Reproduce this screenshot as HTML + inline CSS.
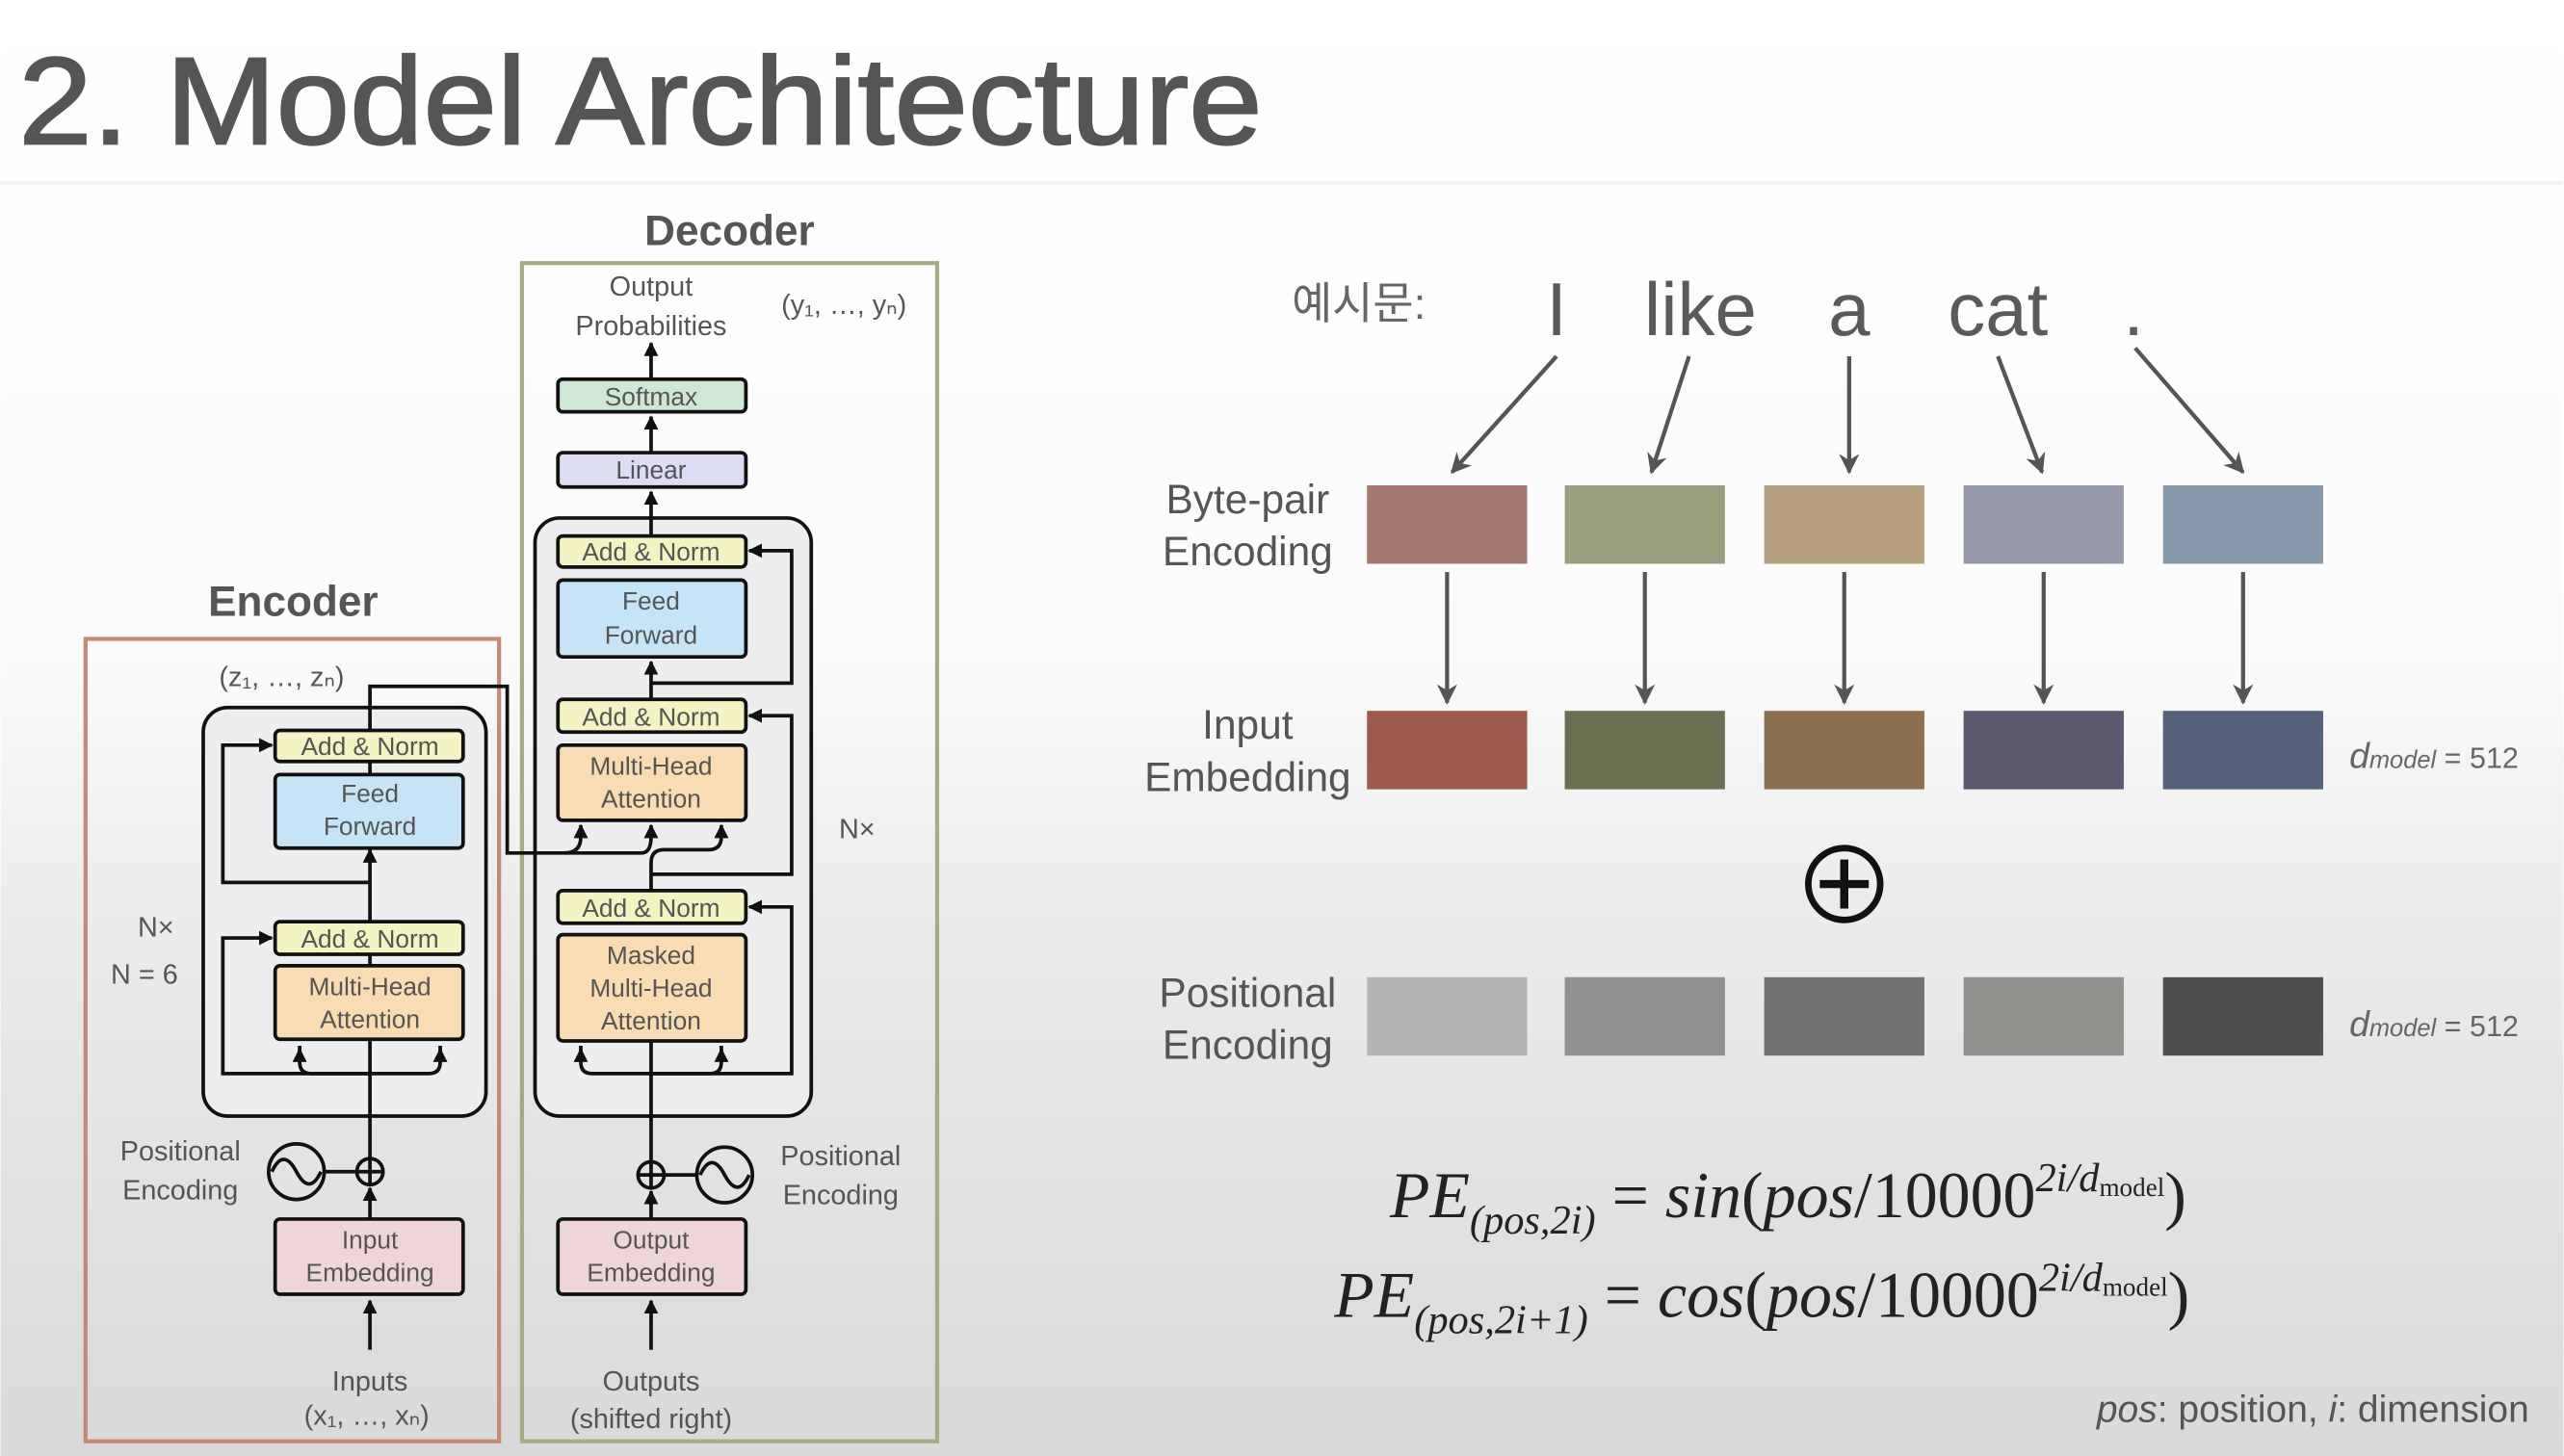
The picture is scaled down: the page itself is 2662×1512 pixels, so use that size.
<!DOCTYPE html>
<html><head><meta charset="utf-8"><style>
html,body{margin:0;padding:0;}
body{width:2662px;height:1512px;overflow:hidden;background:#fff;}
svg{display:block;}
.s{font-family:"Liberation Sans","Noto Sans CJK KR",sans-serif;}
.m{font-family:"Liberation Serif",serif;}
</style></head><body>
<svg width="2662" height="1512" viewBox="0 0 1568 891" xmlns="http://www.w3.org/2000/svg">
<defs>
<linearGradient id="bg" x1="0" y1="0" x2="0" y2="1">
<stop offset="0" stop-color="#ffffff"/><stop offset="0.45" stop-color="#fbfbfb"/><stop offset="0.62" stop-color="#ececec"/><stop offset="1" stop-color="#d9d9d9"/>
</linearGradient>
<marker id="a" viewBox="0 0 10 10" refX="9" refY="5" markerWidth="4" markerHeight="4" orient="auto"><path d="M0,0L10,5L0,10z" fill="#111"/></marker>
<marker id="g" viewBox="0 0 10 10" refX="9" refY="5" markerWidth="5" markerHeight="6" orient="auto"><path d="M0,0L10,5L0,10L3,5z" fill="#555"/></marker>
</defs>
<rect width="1568" height="891" fill="url(#bg)"/>
<g class="s">
<text x="11" y="88" font-size="76" fill="#555" textLength="761" lengthAdjust="spacingAndGlyphs" stroke="#555" stroke-width="1.2">2. Model Architecture</text>
<line x1="0" y1="112" x2="1568" y2="112" stroke="#f0f0f0" stroke-width="2"/>

<text x="179" y="377" font-size="26" font-weight="bold" fill="#555" text-anchor="middle">Encoder</text>
<text x="446" y="150" font-size="26" font-weight="bold" fill="#555" text-anchor="middle">Decoder</text>
<rect x="52" y="391" width="253" height="491" fill="none" stroke="#c28a7a" stroke-width="2.5"/>
<rect x="319" y="161" width="254" height="721" fill="none" stroke="#a3ad84" stroke-width="2.5"/>

<g stroke="#111" stroke-width="2.2" fill="none">
<rect x="124" y="433" width="173" height="250" rx="15" fill="#eeeef0"/>
<rect x="327" y="317" width="169" height="366" rx="15" fill="#eeeef0"/>
</g>

<g font-size="17" fill="#555" text-anchor="middle">
<text x="398" y="181">Output</text><text x="398" y="205">Probabilities</text>
<text x="516" y="192">(y₁, …, yₙ)</text>
<text x="172" y="420">(z₁, …, zₙ)</text>
<text x="95" y="573">N×</text><text x="88" y="602">N = 6</text>
<text x="524" y="513">N×</text>
<text x="110" y="710">Positional</text><text x="110" y="734">Encoding</text>
<text x="514" y="713">Positional</text><text x="514" y="737">Encoding</text>
<text x="226" y="851">Inputs</text><text x="224" y="872">(x₁, …, xₙ)</text>
<text x="398" y="851">Outputs</text><text x="398" y="874">(shifted right)</text>
</g>

<g stroke="#111" stroke-width="2.2" fill="none">
<line x1="226" y1="826" x2="226" y2="796" marker-end="url(#a)"/>
<line x1="226" y1="746" x2="226" y2="727" marker-end="url(#a)"/>
<line x1="226" y1="709" x2="226" y2="637"/>
<line x1="226" y1="591" x2="226" y2="584"/>
<line x1="226" y1="564" x2="226" y2="520" marker-end="url(#a)"/>
<line x1="226" y1="474" x2="226" y2="466"/>
<path d="M226,657 H136 V574 H166" marker-end="url(#a)"/>
<path d="M183,640 V650 Q183,657 190,657 H262 Q269,657 269,650 V640"/>
<path d="M183,650 V642" marker-end="url(#a)"/><path d="M269,650 V642" marker-end="url(#a)"/>
<path d="M226,540 H136 V456 H166" marker-end="url(#a)"/>
<path d="M226,447 V420 H310 V522 H345 Q355,522 355,512 V505" marker-end="url(#a)"/>
<path d="M345,522 H392 Q398,522 398,512 V505" marker-end="url(#a)"/>
<line x1="398" y1="826" x2="398" y2="796" marker-end="url(#a)"/>
<line x1="398" y1="746" x2="398" y2="729" marker-end="url(#a)"/>
<line x1="398" y1="711" x2="398" y2="638"/>
<path d="M355,640 V650 Q355,657 362,657 H434 Q441,657 441,650 V640"/>
<path d="M355,650 V642" marker-end="url(#a)"/><path d="M441,650 V642" marker-end="url(#a)"/>
<path d="M398,657 H484 V555 H458" marker-end="url(#a)"/>
<path d="M398,545 V528 Q398,520 406,520 H433 Q441,520 441,512 V505" marker-end="url(#a)"/>
<path d="M398,535 H484 V438 H458" marker-end="url(#a)"/>
<line x1="398" y1="428" x2="398" y2="405" marker-end="url(#a)"/>
<path d="M398,418 H484 V337 H458" marker-end="url(#a)"/>
<line x1="398" y1="328" x2="398" y2="301" marker-end="url(#a)"/>
<line x1="398" y1="277" x2="398" y2="255" marker-end="url(#a)"/>
<line x1="398" y1="232" x2="398" y2="210" marker-end="url(#a)"/>
<circle cx="226" cy="717" r="8" fill="none"/><path d="M218,717H234M226,709V725"/>
<circle cx="181" cy="717" r="17"/><path d="M166,717 Q173,702 181,717 Q189,732 196,717"/>
<line x1="198" y1="717" x2="218" y2="717"/>
<circle cx="398" cy="719" r="8"/><path d="M390,719H406M398,711V727"/>
<circle cx="443" cy="719" r="17"/><path d="M428,719 Q435,704 443,719 Q451,734 458,719"/>
<line x1="406" y1="719" x2="426" y2="719"/>
</g>

<g stroke="#111" stroke-width="2.2">
<rect x="168" y="447" width="115" height="19" rx="3" fill="#f3f3c4"/>
<rect x="168" y="474" width="115" height="45" rx="3" fill="#c7e4f6"/>
<rect x="168" y="564" width="115" height="20" rx="3" fill="#f3f3c4"/>
<rect x="168" y="591" width="115" height="45" rx="3" fill="#f7dcb4"/>
<rect x="168" y="746" width="115" height="46" rx="3" fill="#eed5d8"/>
<rect x="341" y="232" width="115" height="20" rx="3" fill="#cfe8d6"/>
<rect x="341" y="277" width="115" height="21" rx="3" fill="#dcdcf2"/>
<rect x="341" y="328" width="115" height="19" rx="3" fill="#f3f3c4"/>
<rect x="341" y="355" width="115" height="47" rx="3" fill="#c7e4f6"/>
<rect x="341" y="428" width="115" height="20" rx="3" fill="#f3f3c4"/>
<rect x="341" y="456" width="115" height="46" rx="3" fill="#f7dcb4"/>
<rect x="341" y="545" width="115" height="20" rx="3" fill="#f3f3c4"/>
<rect x="341" y="572" width="115" height="65" rx="3" fill="#f7dcb4"/>
<rect x="341" y="746" width="115" height="46" rx="3" fill="#eed5d8"/>
</g>
<g font-size="15.5" fill="#555" text-anchor="middle">
<text x="226" y="462">Add &amp; Norm</text>
<text x="226" y="491">Feed</text><text x="226" y="511">Forward</text>
<text x="226" y="580">Add &amp; Norm</text>
<text x="226" y="609">Multi-Head</text><text x="226" y="629">Attention</text>
<text x="226" y="764">Input</text><text x="226" y="784">Embedding</text>
<text x="398" y="248">Softmax</text>
<text x="398" y="293">Linear</text>
<text x="398" y="343">Add &amp; Norm</text>
<text x="398" y="373">Feed</text><text x="398" y="394">Forward</text>
<text x="398" y="444">Add &amp; Norm</text>
<text x="398" y="474">Multi-Head</text><text x="398" y="494">Attention</text>
<text x="398" y="561">Add &amp; Norm</text>
<text x="398" y="590">Masked</text><text x="398" y="610">Multi-Head</text><text x="398" y="630">Attention</text>
<text x="398" y="764">Output</text><text x="398" y="784">Embedding</text>
</g>

<text x="790" y="195" font-size="27" fill="#666">예시문:</text>
<g font-size="46" fill="#5a5a5a" text-anchor="middle">
<text x="952" y="205">I</text><text x="1040" y="205">like</text><text x="1131" y="205">a</text><text x="1222" y="205">cat</text><text x="1305" y="205">.</text>
</g>
<g stroke="#555" stroke-width="2.5" fill="none">
<line x1="952" y1="218" x2="888" y2="289" marker-end="url(#g)"/>
<line x1="1033" y1="218" x2="1010" y2="289" marker-end="url(#g)"/>
<line x1="1131" y1="218" x2="1131" y2="289" marker-end="url(#g)"/>
<line x1="1222" y1="218" x2="1249" y2="289" marker-end="url(#g)"/>
<line x1="1306" y1="213" x2="1372" y2="289" marker-end="url(#g)"/>
<line x1="885" y1="350" x2="885" y2="430" marker-end="url(#g)"/>
<line x1="1006" y1="350" x2="1006" y2="430" marker-end="url(#g)"/>
<line x1="1128" y1="350" x2="1128" y2="430" marker-end="url(#g)"/>
<line x1="1250" y1="350" x2="1250" y2="430" marker-end="url(#g)"/>
<line x1="1372" y1="350" x2="1372" y2="430" marker-end="url(#g)"/>
</g>
<g>
<rect x="836" y="297" width="98" height="48" fill="#a47a70"/>
<rect x="957" y="297" width="98" height="48" fill="#9a9e7f"/>
<rect x="1079" y="297" width="98" height="48" fill="#b59f7e"/>
<rect x="1201" y="297" width="98" height="48" fill="#9698ab"/>
<rect x="1323" y="297" width="98" height="48" fill="#8699ab"/>
<rect x="836" y="435" width="98" height="48" fill="#9e5a4c"/>
<rect x="957" y="435" width="98" height="48" fill="#6c7052"/>
<rect x="1079" y="435" width="98" height="48" fill="#8b7150"/>
<rect x="1201" y="435" width="98" height="48" fill="#5b5870"/>
<rect x="1323" y="435" width="98" height="48" fill="#56627a"/>
<rect x="836" y="598" width="98" height="48" fill="#b4b4b4"/>
<rect x="957" y="598" width="98" height="48" fill="#929190"/>
<rect x="1079" y="598" width="98" height="48" fill="#717171"/>
<rect x="1201" y="598" width="98" height="48" fill="#92918e"/>
<rect x="1323" y="598" width="98" height="48" fill="#4f4f4f"/>
</g>
<g font-size="25" fill="#555" text-anchor="middle">
<text x="763" y="314">Byte-pair</text><text x="763" y="346">Encoding</text>
<text x="763" y="452">Input</text><text x="763" y="484">Embedding</text>
<text x="763" y="616">Positional</text><text x="763" y="648">Encoding</text>
</g>
<g font-size="18" fill="#666">
<text x="1437" y="470"><tspan font-style="italic" font-size="22">d</tspan><tspan font-style="italic" font-size="15">model</tspan> = 512</text>
<text x="1437" y="634"><tspan font-style="italic" font-size="22">d</tspan><tspan font-style="italic" font-size="15">model</tspan> = 512</text>
</g>
<circle cx="1128" cy="541" r="22" fill="none" stroke="#111" stroke-width="4"/>
<path d="M1113,541H1143M1128,526V556" stroke="#111" stroke-width="5"/>
<text x="1547" y="870" font-size="23" fill="#555" text-anchor="end"><tspan font-style="italic">pos</tspan>: position, <tspan font-style="italic">i</tspan>: dimension</text>
</g>

<g class="m" fill="#222">
<text x="850" y="745" font-size="40"><tspan font-style="italic">PE</tspan><tspan font-size="25" dy="10" font-style="italic">(pos,2i)</tspan><tspan dy="-10"> = </tspan><tspan font-style="italic">sin</tspan>(<tspan font-style="italic">pos</tspan>/10000<tspan font-size="25" dy="-16" font-style="italic">2i/d</tspan><tspan font-size="16" dy="3">model</tspan><tspan dy="13">)</tspan></text>
<text x="816" y="806" font-size="40"><tspan font-style="italic">PE</tspan><tspan font-size="25" dy="10" font-style="italic">(pos,2i+1)</tspan><tspan dy="-10"> = </tspan><tspan font-style="italic">cos</tspan>(<tspan font-style="italic">pos</tspan>/10000<tspan font-size="25" dy="-16" font-style="italic">2i/d</tspan><tspan font-size="16" dy="3">model</tspan><tspan dy="13">)</tspan></text>
</g>
</svg>
</body></html>
